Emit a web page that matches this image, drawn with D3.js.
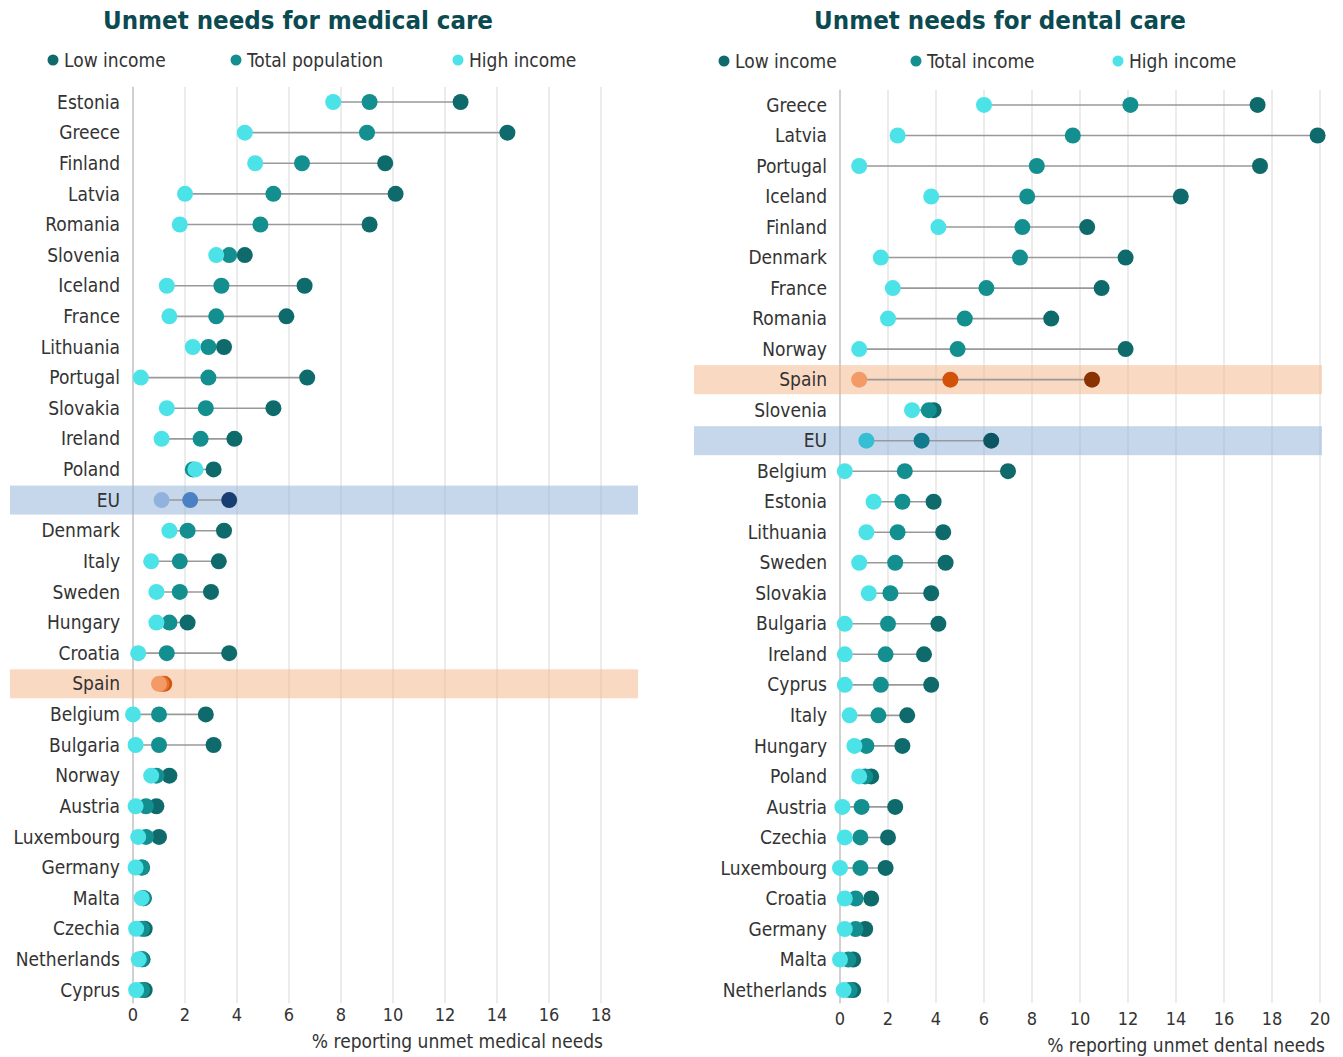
<!DOCTYPE html>
<html><head><meta charset="utf-8">
<script src="https://cdn.jsdelivr.net/npm/d3@7"></script>
<style>
body{margin:0;background:#fff;}
svg text{font-family:"Liberation Sans Narrow","DejaVu Sans Condensed","Roboto",sans-serif;}
</style></head>
<body><svg id="c" width="1343" height="1057"></svg>
<script>
// ---- Medical care data ----
const medCountries = ["Estonia","Greece","Finland","Latvia","Romania","Slovenia","Iceland","France","Lithuania","Portugal","Slovakia","Ireland","Poland","EU","Denmark","Italy","Sweden","Hungary","Croatia","Spain","Belgium","Bulgaria","Norway","Austria","Luxembourg","Germany","Malta","Czechia","Netherlands","Cyprus"];
const medLow   = [12.6,14.4,9.7,10.1,9.1,4.3,6.6,5.9,3.5,6.7,5.4,3.9,3.1,3.7,3.5,3.3,3.0,2.1,3.7,1.2,2.8,3.1,1.4,0.9,1.0,0.35,0.42,0.45,0.37,0.45];
const medTotal = [9.1,9.0,6.5,5.4,4.9,3.7,3.4,3.2,2.9,2.9,2.8,2.6,2.3,2.2,2.1,1.8,1.8,1.4,1.3,1.1,1.0,1.0,0.9,0.5,0.5,0.33,0.4,0.35,0.33,0.35];
const medHigh  = [7.7,4.3,4.7,2.0,1.8,3.2,1.3,1.4,2.3,0.3,1.3,1.1,2.4,1.1,1.4,0.7,0.9,0.9,0.2,1.0,0.0,0.1,0.7,0.1,0.2,0.1,0.33,0.12,0.22,0.12];
const medTicks = [0,2,4,6,8,10,12,14,16,18];

// ---- Dental care data ----
const denCountries = ["Greece","Latvia","Portugal","Iceland","Finland","Denmark","France","Romania","Norway","Spain","Slovenia","EU","Belgium","Estonia","Lithuania","Sweden","Slovakia","Bulgaria","Ireland","Cyprus","Italy","Hungary","Poland","Austria","Czechia","Luxembourg","Croatia","Germany","Malta","Netherlands"];
const denLow   = [17.4,19.9,17.5,14.2,10.3,11.9,10.9,8.8,11.9,10.5,3.9,6.3,7.0,3.9,4.3,4.4,3.8,4.1,3.5,3.8,2.8,2.6,1.3,2.3,2.0,1.9,1.3,1.05,0.55,0.55];
const denTotal = [12.1,9.7,8.2,7.8,7.6,7.5,6.1,5.2,4.9,4.6,3.7,3.4,2.7,2.6,2.4,2.3,2.1,2.0,1.9,1.7,1.6,1.1,1.05,0.9,0.85,0.85,0.65,0.65,0.35,0.4];
const denHigh  = [6.0,2.4,0.8,3.8,4.1,1.7,2.2,2.0,0.8,0.8,3.0,1.1,0.2,1.4,1.1,0.8,1.2,0.2,0.2,0.2,0.4,0.6,0.8,0.1,0.2,0.0,0.2,0.2,0.0,0.15];
const denTicks = [0,2,4,6,8,10,12,14,16,18,20];

const COL = {low:"#0e6a6b", total:"#138f8f", high:"#4be3e7"};
const special = {
  med:{ EU:{low:"#173f72",total:"#4a80c4",high:"#8fb3dc",band:"#8eb0d8"},
        Spain:{low:"#d2520a",total:"#e27232",high:"#f49a66",band:"#f6b385"}},
  den:{ EU:{low:"#0c5663",total:"#117a8c",high:"#35bfd5",band:"#8eb0d8"},
        Spain:{low:"#8a3200",total:"#d2520a",high:"#f49a66",band:"#f6b385"}}
};

const svg = d3.select("#c");

function panel(cfg){
  const g = svg.append("g");
  const x = d3.scaleLinear().domain(cfg.xDomain).range(cfg.xRange);
  const y = d3.scaleBand().domain(cfg.countries).range(cfg.yRange).padding(0);
  const cy = c => y(c) + y.bandwidth()/2;

  // title
  g.append("text").attr("x",cfg.titleX).attr("y",29).attr("text-anchor","middle")
    .attr("font-size",25.6).attr("font-weight","bold").attr("fill","#0b4a50").text(cfg.title);
  // legend
  cfg.legend.forEach(l=>{
    g.append("circle").attr("cx",l.x).attr("cy",cfg.legendY).attr("r",5.5).attr("fill",COL[l.k]);
    g.append("text").attr("x",l.x+11).attr("y",cfg.legendY).attr("dy","0.35em")
      .attr("font-size",19).attr("fill","#333").text(l.t);
  });
  // grid
  g.selectAll("line.grid").data(cfg.ticks).join("line")
    .attr("x1",d=>x(d)).attr("x2",d=>x(d))
    .attr("y1",cfg.yRange[0]).attr("y2",cfg.yRange[1]-2)
    .attr("stroke",d=>d===0?"#d0d0d0":"#e6e6e6").attr("stroke-width",d=>d===0?2:1.5);
  // bands
  Object.keys(special[cfg.key]).forEach(c=>{
    g.append("rect").attr("x",cfg.bandX[0]).attr("width",cfg.bandX[1]-cfg.bandX[0])
      .attr("y",cy(c)-14.5).attr("height",29)
      .attr("fill",special[cfg.key][c].band).attr("fill-opacity",0.5);
  });
  // tick labels
  g.selectAll("text.tick").data(cfg.ticks).join("text")
    .attr("x",d=>x(d)).attr("y",cfg.tickY).attr("dy","0.35em").attr("text-anchor","middle")
    .attr("font-size",18).attr("fill","#333").text(d=>d);
  g.append("text").attr("x",cfg.axisTitleX).attr("y",cfg.axisTitleY).attr("dy","0.35em")
    .attr("text-anchor","end").attr("font-size",19).attr("fill","#333").text(cfg.axisTitle);
  // category labels
  g.selectAll("text.cat").data(cfg.countries).join("text")
    .attr("x",cfg.labelX).attr("y",d=>cy(d)).attr("dy","0.35em").attr("text-anchor","end")
    .attr("font-size",19).attr("fill","#333").text(d=>d);
  // rows
  cfg.countries.forEach((c,i)=>{
    const vals=[cfg.low[i],cfg.total[i],cfg.high[i]];
    const sp = special[cfg.key][c];
    g.append("line").attr("x1",x(d3.min(vals))).attr("x2",x(d3.max(vals)))
      .attr("y1",cy(c)).attr("y2",cy(c)).attr("stroke","#999").attr("stroke-width",1.6);
    [["low",cfg.low[i]],["total",cfg.total[i]],["high",cfg.high[i]]].forEach(([k,v])=>{
      g.append("circle").attr("cx",x(v)).attr("cy",cy(c)).attr("r",8)
        .attr("fill",sp?sp[k]:COL[k]);
    });
  });
}

panel({key:"med",title:"Unmet needs for medical care",titleX:298,legendY:60,
  legend:[{k:"low",x:53,t:"Low income"},{k:"total",x:236,t:"Total population"},{k:"high",x:458,t:"High income"}],
  countries:medCountries,low:medLow,total:medTotal,high:medHigh,ticks:medTicks,
  xDomain:[0,19.4],xRange:[133,637.4],yRange:[86.7,1005.3],bandX:[10,638],
  labelX:120,tickY:1015,axisTitle:"% reporting unmet medical needs",axisTitleX:603,axisTitleY:1041});

panel({key:"den",title:"Unmet needs for dental care",titleX:1000,legendY:61,
  legend:[{k:"low",x:724,t:"Low income"},{k:"total",x:916,t:"Total income"},{k:"high",x:1118,t:"High income"}],
  countries:denCountries,low:denLow,total:denTotal,high:denHigh,ticks:denTicks,
  xDomain:[0,20],xRange:[840,1320],yRange:[89.7,1005.3],bandX:[694,1322],
  labelX:827,tickY:1019,axisTitle:"% reporting unmet dental needs",axisTitleX:1325,axisTitleY:1045});
</script></body></html>
